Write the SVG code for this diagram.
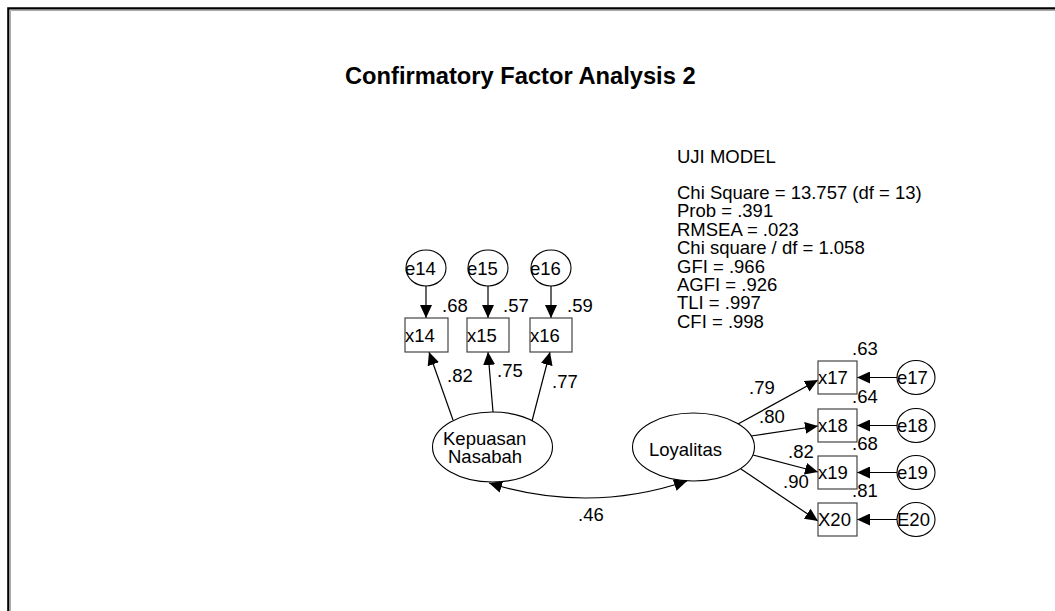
<svg xmlns="http://www.w3.org/2000/svg" width="1055" height="611" viewBox="0 0 1055 611">
<style>
text{font-family:"Liberation Sans",Arial,sans-serif;font-size:18.5px;fill:#000}
.title{font-size:23.7px;font-weight:bold}
.box{fill:#fff;stroke:#444;stroke-width:1.2}
.ell{fill:#fff;stroke:#000;stroke-width:1.1}
.c line,.c path{stroke:#000;stroke-width:1.2;fill:none}
</style>
<defs>
<marker id="a" markerUnits="userSpaceOnUse" markerWidth="14" markerHeight="12" refX="13" refY="6" orient="auto-start-reverse"><path d="M0,0 L13,6 L0,12 z" fill="#000"/></marker>
</defs>
<rect width="1055" height="611" fill="#fff"/>
<path d="M8.3,611 V8.3 H1055" fill="none" stroke="#000" stroke-width="2.2"/>
<path d="M10.5,611 V10.5 H1055" fill="none" stroke="#aaa" stroke-width="1"/>
<text class="title" x="345" y="84">Confirmatory Factor Analysis 2</text>
<g id="fit">
<text x="677" y="163">UJI MODEL</text>
<text x="677" y="199">Chi Square = 13.757 (df = 13)</text>
<text x="677" y="217.4">Prob = .391</text>
<text x="677" y="235.8">RMSEA = .023</text>
<text x="677" y="254.2">Chi square / df = 1.058</text>
<text x="677" y="272.6">GFI = .966</text>
<text x="677" y="291">AGFI = .926</text>
<text x="677" y="309.4">TLI = .997</text>
<text x="677" y="327.8">CFI = .998</text>
</g>
<g id="connectors" class="c">
<line x1="426" y1="286" x2="426" y2="318" marker-end="url(#a)"/>
<line x1="488" y1="286" x2="488" y2="318" marker-end="url(#a)"/>
<line x1="551" y1="286" x2="551" y2="318" marker-end="url(#a)"/>
<line x1="453" y1="420" x2="429" y2="352" marker-end="url(#a)"/>
<line x1="493" y1="412" x2="488" y2="352" marker-end="url(#a)"/>
<line x1="532" y1="421" x2="550" y2="352" marker-end="url(#a)"/>
<line x1="738" y1="424" x2="818" y2="380" marker-end="url(#a)"/>
<line x1="751" y1="436" x2="818" y2="426" marker-end="url(#a)"/>
<line x1="753" y1="455" x2="818" y2="472" marker-end="url(#a)"/>
<line x1="741" y1="469" x2="818" y2="521" marker-end="url(#a)"/>
<line x1="897" y1="377.5" x2="857" y2="377.5" marker-end="url(#a)"/>
<line x1="897" y1="425.5" x2="857" y2="425.5" marker-end="url(#a)"/>
<line x1="897" y1="472.5" x2="857" y2="472.5" marker-end="url(#a)"/>
<line x1="897" y1="519.5" x2="857" y2="519.5" marker-end="url(#a)"/>
<path d="M489,483 Q589,514 687,481" marker-start="url(#a)" marker-end="url(#a)"/>
</g>
<g id="labels">
<text x="442" y="312">.68</text>
<text x="503" y="312">.57</text>
<text x="567" y="312">.59</text>
<text x="447" y="382">.82</text>
<text x="497" y="377">.75</text>
<text x="552" y="388">.77</text>
<text x="749" y="394">.79</text>
<text x="759" y="423">.80</text>
<text x="788" y="458">.82</text>
<text x="783" y="488">.90</text>
<text x="852" y="355">.63</text>
<text x="852" y="403">.64</text>
<text x="852" y="450">.68</text>
<text x="852" y="497">.81</text>
<text x="578" y="521">.46</text>
</g>
<g id="e14"><ellipse class="ell" cx="426" cy="268" rx="20" ry="18"/><text x="405" y="275">e14</text></g>
<g id="e15"><ellipse class="ell" cx="488" cy="268" rx="20" ry="18"/><text x="467" y="275">e15</text></g>
<g id="e16"><ellipse class="ell" cx="551" cy="268" rx="20" ry="18"/><text x="530" y="275">e16</text></g>
<g id="x14"><rect class="box" x="405" y="318" width="43" height="34"/><text x="405" y="342">x14</text></g>
<g id="x15"><rect class="box" x="467" y="318" width="42" height="34"/><text x="467" y="342">x15</text></g>
<g id="x16"><rect class="box" x="530" y="318" width="42" height="34"/><text x="530" y="342">x16</text></g>
<g id="kepuasan"><ellipse class="ell" cx="492.5" cy="447" rx="60" ry="35"/><text x="443" y="445">Kepuasan</text><text x="448" y="463">Nasabah</text></g>
<g id="loyalitas"><ellipse class="ell" cx="693.5" cy="447" rx="61" ry="34"/><text x="649" y="456">Loyalitas</text></g>
<g id="x17"><rect class="box" x="818" y="361" width="39" height="33"/><text x="818" y="384">x17</text></g>
<g id="x18"><rect class="box" x="818" y="409" width="39" height="33"/><text x="818" y="432">x18</text></g>
<g id="x19"><rect class="box" x="818" y="456" width="39" height="33"/><text x="818" y="479">x19</text></g>
<g id="X20"><rect class="box" x="818" y="503" width="39" height="33"/><text x="818" y="526">X20</text></g>
<g id="e17"><ellipse class="ell" cx="916" cy="377.5" rx="19" ry="17"/><text x="897" y="384">e17</text></g>
<g id="e18"><ellipse class="ell" cx="916" cy="425.5" rx="19" ry="17"/><text x="897" y="432">e18</text></g>
<g id="e19"><ellipse class="ell" cx="916" cy="472.5" rx="19" ry="17"/><text x="897" y="479">e19</text></g>
<g id="E20"><ellipse class="ell" cx="916" cy="519.5" rx="19" ry="17"/><text x="897" y="526">E20</text></g>
</svg>
